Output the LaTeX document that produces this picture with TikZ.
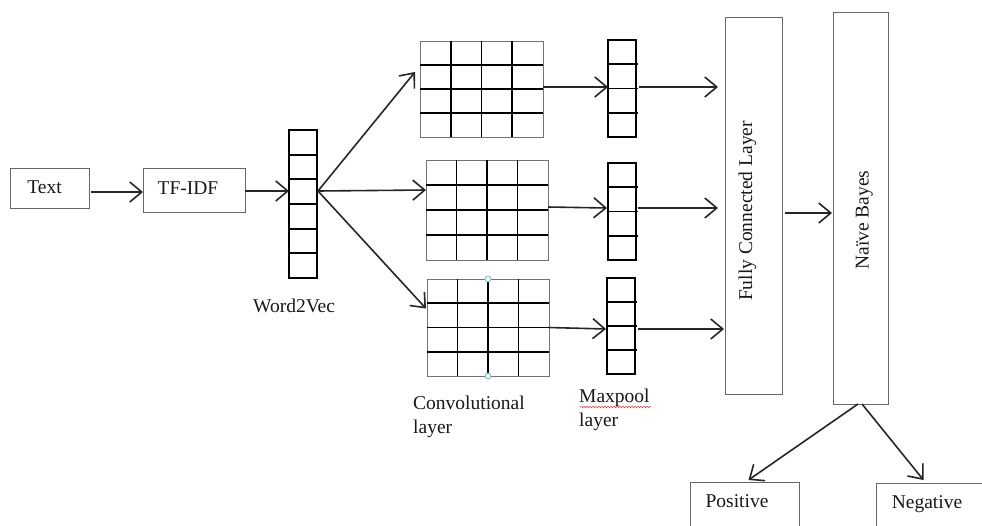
\documentclass[tikz,border=0pt]{standalone}
\usepackage{fontspec}
\setmainfont{Liberation Serif}
\usetikzlibrary{arrows.meta,calc,decorations.pathmorphing}
\begin{document}
\begin{tikzpicture}[x=1pt,y=-1pt,
  lbl/.style={font=\fontsize{19.5}{24}\selectfont, inner sep=0pt, text=black!90},
  box/.style={draw=black!60, line width=0.9pt, inner sep=0pt, outer sep=0pt, rectangle},
  col/.style={draw=black, line width=1.7pt, inner sep=0pt, outer sep=0pt, rectangle},
  gridrect/.style={draw=black!55, line width=1pt, inner sep=0pt, outer sep=0pt, rectangle},
  gline/.style={draw=black, line width=1.7pt},
  arr/.style={-{Straight Barb[length=12pt,width=20pt]}, line width=1.6pt, draw=black!85},
  handle/.style={circle, draw=cyan!40!gray, fill=cyan!10, line width=0.6pt, inner sep=0pt, minimum size=6pt}
]
\clip (0,0) rectangle (982,525);
\useasboundingbox (0,0) rectangle (982,525);
\fill[white] (0,0) rectangle (982,525);

% input boxes
\node[box, minimum width=79pt, minimum height=40pt] (textbox) at (49.5,188) {};
\node[lbl, anchor=base] (textlbl) at (44.5,193) {Text};
\node[box, minimum width=102pt, minimum height=44pt] (tfidf) at (194,190) {};
\node[lbl, anchor=base] (tfidflbl) at (188,194) {TF-IDF};

% word2vec column
\node[col, minimum width=28pt, minimum height=148pt] (w2v) at (303,204) {};
\foreach \i in {1,...,5}{
  \draw[gline] ($(w2v.north west)!\i/6!(w2v.south west)$) -- ($(w2v.north east)!\i/6!(w2v.south east)$);
}
\node[lbl, anchor=base west] (w2vlbl) at (253,312) {Word2Vec};

% convolution grids
\node[gridrect, minimum width=123pt, minimum height=96pt] (g1) at (481.5,89) {};
\node[gridrect, minimum width=122pt, minimum height=100pt] (g2) at (487,210) {};
\node[gridrect, minimum width=122pt, minimum height=97pt] (g3) at (488,327.5) {};
\foreach \g in {g1,g2,g3}{
  \foreach \i in {1,2,3}{
    \draw[gline] ($(\g.north west)!\i/4!(\g.north east)$) -- ($(\g.south west)!\i/4!(\g.south east)$);
    \draw[gline] ($(\g.north west)!\i/4!(\g.south west)$) -- ($(\g.north east)!\i/4!(\g.south east)$);
  }
}
\node[handle] (h1) at (g3.north) {};
\node[handle] (h2) at (g3.south) {};
\node[lbl, anchor=north west, align=left] (convlbl) at (413,396) {Convolutional\\layer};

% maxpool columns
\node[col, minimum width=28pt, minimum height=97pt] (mp1) at (622,88.5) {};
\node[col, minimum width=28pt, minimum height=97pt] (mp2) at (622,211.5) {};
\node[col, minimum width=28pt, minimum height=96pt] (mp3) at (621,326) {};
\foreach \m in {mp1,mp2,mp3}{
  \foreach \i in {1,2,3}{
    \draw[gline] ($(\m.north west)!\i/4!(\m.south west)$) -- ($(\m.north east)!\i/4!(\m.south east)+(2,0)$);
  }
}
\node[lbl, anchor=north west, align=left] (mplbl) at (579,389) {Maxpool\\layer};
\draw[red!80, line width=0.5pt, decorate, decoration={snake, amplitude=0.8pt, segment length=3pt}] (580,407) -- (651,407);

% dense layers
\node[box, minimum width=57pt, minimum height=377pt] (fc) at (753.5,205.5) {};
\node[lbl, rotate=90, anchor=base] (fclbl) at (752,211) {Fully Connected Layer};
\node[box, minimum width=55pt, minimum height=392pt] (nb) at (860.5,208) {};
\node[lbl, rotate=90, anchor=base] (nblbl) at (868.5,220) {Naïve Bayes};

% outputs
\node[box, minimum width=109pt, minimum height=50pt] (pos) at (744.5,507) {};
\node[lbl, anchor=base] (poslbl) at (737,507) {Positive};
\node[box, minimum width=106pt, minimum height=50pt] (neg) at (929,508) {};
\node[lbl, anchor=base] (neglbl) at (927,508) {Negative};

% connectors
\draw[arr] ([shift={(2,4)}]textbox.east) -- ([shift={(0,2)}]tfidf.west);
\draw[arr] ([shift={(0,1)}]tfidf.east) -- ([shift={(0,-13)}]w2v.west);
\coordinate (fan) at ([shift={(1,-13)}]w2v.east);
\draw[arr] (fan) -- ([shift={(-5,-17)}]g1.west);
\draw[arr] (fan) -- ([shift={(0,-20)}]g2.west);
\draw[arr] (fan) -- ([shift={(-1,-19)}]g3.west);

\draw[arr] ([shift={(0,-2)}]g1.east) -- ([shift={(0,-1.5)}]mp1.west);
\draw[arr] ([shift={(0,-3)}]g2.east) -- ([shift={(-1,-3.5)}]mp2.west);
\draw[arr] ([shift={(0,0)}]g3.east) -- ([shift={(-1,3)}]mp3.west);

\coordinate (m1) at ([shift={(3,-1.5)}]mp1.east);
\coordinate (m2) at ([shift={(2,-3.5)}]mp2.east);
\coordinate (m3) at ([shift={(3,3)}]mp3.east);
\draw[arr] (m1) -- ($(fc.west |- m1)+(-7,0)$);
\draw[arr] (m2) -- ($(fc.west |- m2)+(-7,0)$);
\draw[arr] (m3) -- ($(fc.west |- m3)+(-1,0)$);

\coordinate (f1) at ([shift={(3,7.5)}]fc.east);
\draw[arr] (f1) -- ($(nb.west |- f1)+(-1,0)$);

\draw[arr] ([shift={(-2.5,0)}]nb.south) -- ([shift={(4,-2)}]pos.north);
\draw[arr] ([shift={(1.5,0)}]nb.south) -- ([shift={(-5.5,-3)}]neg.north);
\end{tikzpicture}
\end{document}
